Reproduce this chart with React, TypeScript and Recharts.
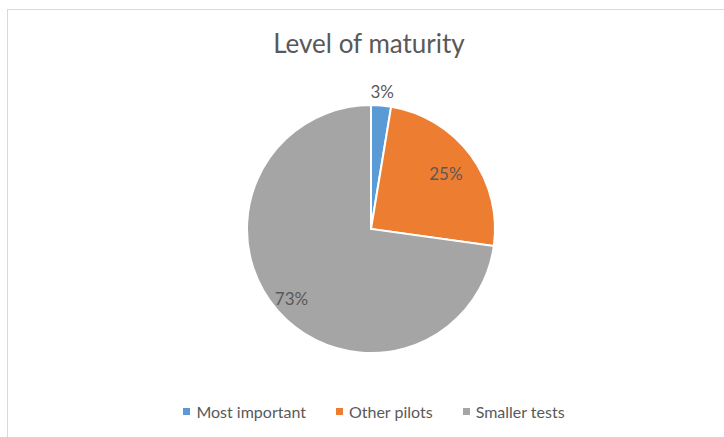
import { Pie, PieChart, Cell } from 'recharts';

const categories = ['Most important', 'Other pilots', 'Smaller tests'];
const shares = [2.6, 24.6, 72.8];
const colors = ['#5B9BD5', '#ED7D31', '#A5A5A5'];

const data = categories.map((name, i) => ({ name, value: shares[i] }));

const FONT = 'Lato, "Open Sans", sans-serif';
const TEXT = '#595959';
const RAD = Math.PI / 180;

// radius factor per slice label (Excel best fit)
const labelRadius = [1.11, 0.75, 0.85];

const renderLabel = (props: any) => {
  const { cx, cy, midAngle, outerRadius, percent, index } = props;
  const r = outerRadius * labelRadius[index];
  const x = cx + r * Math.cos(-midAngle * RAD);
  const y = cy + r * Math.sin(-midAngle * RAD);
  return (
    <text
      x={x}
      y={y}
      fill={TEXT}
      fontSize={17}
      fontFamily={FONT}
      textAnchor="middle"
      dominantBaseline="central"
    >
      {`${Math.round(percent * 100)}%`}
    </text>
  );
};

function LegendRow() {
  return (
    <div
      style={{
        position: 'absolute',
        top: 402,
        left: 0,
        width: 748,
        display: 'flex',
        justifyContent: 'center',
        gap: 30,
        fontFamily: FONT,
        fontSize: 16,
        color: TEXT,
      }}
    >
      {categories.map((c, i) => (
        <div key={c} style={{ display: 'flex', alignItems: 'center' }}>
          <span
            style={{
              display: 'inline-block',
              width: 7,
              height: 7,
              background: colors[i],
              marginRight: 6,
            }}
          />
          {c}
        </div>
      ))}
    </div>
  );
}

export default function App() {
  return (
    <div
      style={{
        position: 'absolute',
        left: 0,
        top: 0,
        width: 724,
        height: 437,
        overflow: 'hidden',
        background: '#fff',
      }}
    >
      <div
        style={{
          position: 'absolute',
          left: 7,
          top: 9,
          width: 760,
          height: 480,
          border: '1px solid #D9D9D9',
        }}
      />
      <div
        style={{
          position: 'absolute',
          top: 27,
          left: 0,
          width: 738,
          textAlign: 'center',
          fontFamily: FONT,
          fontSize: 26,
          color: TEXT,
        }}
      >
        Level of maturity
      </div>
      <div style={{ position: 'absolute', left: 0, top: 0 }}>
        <PieChart
          width={724}
          height={437}
          margin={{ top: 0, right: 0, bottom: 0, left: 0 }}
        >
          <Pie
            data={data}
            dataKey="value"
            nameKey="name"
            cx={371}
            cy={229}
            outerRadius={124}
            startAngle={90}
            endAngle={-270}
            stroke="#fff"
            strokeWidth={2}
            label={renderLabel}
            labelLine={false}
            isAnimationActive={false}
          >
            {data.map((d, i) => (
              <Cell key={d.name} fill={colors[i]} />
            ))}
          </Pie>
        </PieChart>
      </div>
      <LegendRow />
    </div>
  );
}
